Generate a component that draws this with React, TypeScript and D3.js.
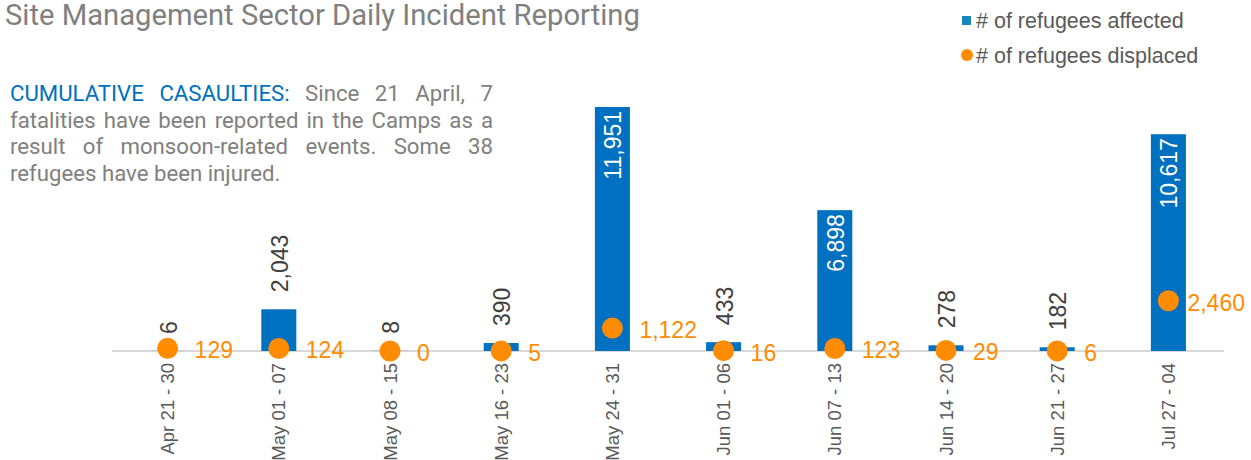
import React from "react";
import * as d3 from "d3";

const categories = ["Apr 21 - 30", "May 01 - 07", "May 08 - 15", "May 16 - 23", "May 24 - 31", "Jun 01 - 06", "Jun 07 - 13", "Jun 14 - 20", "Jun 21 - 27", "Jul 27 - 04"];
const affected = [6, 2043, 8, 390, 11951, 433, 6898, 278, 182, 10617];
const displaced = [129, 124, 0, 5, 1122, 16, 123, 29, 6, 2460];
const legendLabels = ["# of refugees affected", "# of refugees displaced"];
const title = "Site Management Sector Daily Incident Reporting";
const noteLead = "CUMULATIVE CASAULTIES:";
const noteLines = [
  "Since 21 April, 7",
  "fatalities have been reported in the Camps as a",
  "result of monsoon-related events. Some 38",
  "refugees have been injured.",
];

const W = 1251, H = 460;
const BLUE = "#0070C0";
const ORANGE = "#FF8C00";
const fmt = d3.format(",");

let ctx: CanvasRenderingContext2D | null = null;
function measure(text: string, font: string) {
  if (!ctx) ctx = document.createElement("canvas").getContext("2d");
  ctx!.font = font;
  return ctx!.measureText(text).width;
}

export default function App() {
  const x = d3.scaleBand().domain(categories).range([112, 1224]).paddingInner(0.685).paddingOuter(0.3425);
  const y = d3.scaleLinear().domain([0, 12000]).range([351, 106]);
  const bw = x.bandwidth();
  const valFont = "23px 'Liberation Sans', Arial, sans-serif";
  const noteFontSize = 22.2;
  const noteFont = `${noteFontSize}px Roboto`;
  const noteLeft = 10, noteRight = 493;

  const lineWords: { text: string; blue: boolean }[][] = noteLines.map((l, i) => {
    const ws = l.split(" ").map((t) => ({ text: t, blue: false }));
    if (i === 0) return [...noteLead.split(" ").map((t) => ({ text: t, blue: true })), ...ws];
    return ws;
  });

  return (
    <svg width={W} height={H} style={{ position: "absolute", left: 0, top: 0, background: "#fff" }}>
      <text x={5} y={25} fontFamily="Roboto" fontSize={29.2} fill="#808080">{title}</text>

      {/* legend */}
      <rect x={962} y={16} width={9} height={9} fill="#1A87BC" />
      <text x={976} y={28} fontFamily="'Liberation Sans', Arial" fontSize={21.5} fill="#595959">{legendLabels[0]}</text>
      <circle cx={967} cy={55} r={6} fill={ORANGE} />
      <text x={976} y={63} fontFamily="'Liberation Sans', Arial" fontSize={21.5} fill="#595959">{legendLabels[1]}</text>

      {/* annotation */}
      {lineWords.map((words, li) => {
        const last = li === lineWords.length - 1;
        const widths = words.map((w) => measure(w.text, noteFont));
        const total = widths.reduce((a, b) => a + b, 0);
        const gap = last ? measure(" ", noteFont) : (noteRight - noteLeft - total) / (words.length - 1);
        let cx = noteLeft;
        return (
          <text key={li} y={101 + li * 26.7} fontFamily="Roboto" fontSize={noteFontSize}>
            {words.map((w, wi) => {
              const px = cx;
              cx += widths[wi] + gap;
              return <tspan key={wi} x={px} fill={w.blue ? BLUE : "#808080"}>{w.text}</tspan>;
            })}
          </text>
        );
      })}

      {/* baseline */}
      <line x1={112} x2={1224} y1={y(0)} y2={y(0)} stroke="#D9D9D9" strokeWidth={2} />

      {/* bars */}
      {categories.map((c, i) => (
        <rect key={c} x={x(c)} y={y(affected[i])} width={bw} height={y(0) - y(affected[i])} fill={BLUE} />
      ))}

      {/* bar labels */}
      {categories.map((c, i) => {
        const cx = (x(c) as number) + bw / 2;
        const h = y(0) - y(affected[i]);
        const label = fmt(affected[i]);
        const inside = h > measure(label, valFont) + 15;
        const ty = inside ? y(affected[i]) + 4 : y(affected[i]) - 17;
        return (
          <text key={c} transform={`translate(${cx + 1},${ty}) rotate(-90)`} textAnchor={inside ? "end" : "start"}
            dominantBaseline="central" fontFamily="'Liberation Sans', Arial" fontSize={23} fill={inside ? "#fff" : "#404040"}>
            {label}
          </text>
        );
      })}

      {/* dots */}
      {categories.map((c, i) => (
        <circle key={c} cx={(x(c) as number) + bw / 2} cy={y(displaced[i])} r={10.5} fill={ORANGE} />
      ))}
      {categories.map((c, i) => {
        const cx = (x(c) as number) + bw / 2;
        const label = fmt(displaced[i]);
        const lw = measure(label, valFont);
        let lx = cx + 27;
        if (lx + lw > 1245) lx = 1245 - lw;
        return (
          <text key={c} x={lx} y={y(displaced[i]) + 2} dominantBaseline="central" fontFamily="'Liberation Sans', Arial" fontSize={23} fill={ORANGE}>
            {label}
          </text>
        );
      })}

      {/* x axis labels */}
      {categories.map((c) => (
        <text key={c} transform={`translate(${(x(c) as number) + bw / 2},363) rotate(-90)`} textAnchor="end"
          dominantBaseline="central" fontFamily="'Liberation Sans', Arial" fontSize={18.5} fill="#595959">
          {c}
        </text>
      ))}
    </svg>
  );
}
